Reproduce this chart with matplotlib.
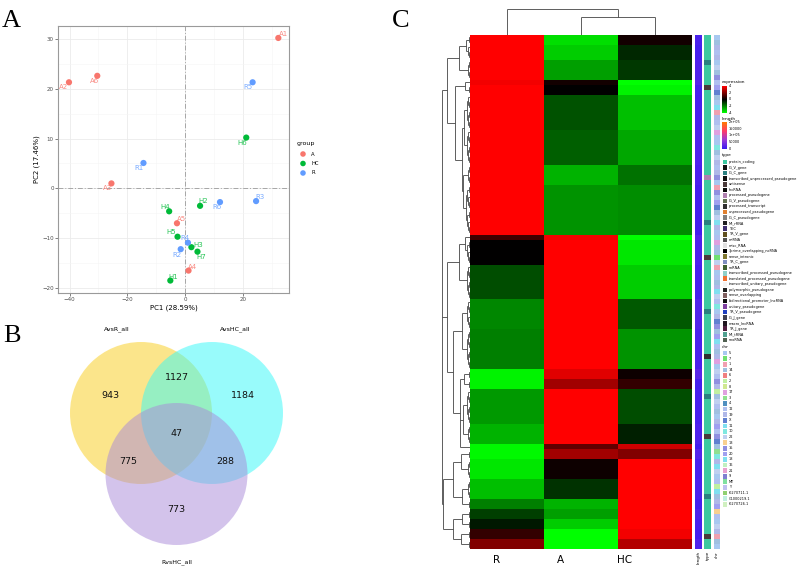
import matplotlib
matplotlib.use('Agg')
import matplotlib.pyplot as plt
from matplotlib.colors import LinearSegmentedColormap, ListedColormap
from matplotlib.patches import Circle, Rectangle
import numpy as np

W, H = 799, 573

# ---------------- panel A : PCA ----------------
samples = ['A1', 'A2', 'A3', 'A4', 'A5', 'A6',
           'H1', 'H2', 'H3', 'H4', 'H5', 'H6', 'H7',
           'R1', 'R2', 'R3', 'R4', 'R5', 'R6']
groups = ['A'] * 6 + ['HC'] * 7 + ['R'] * 6
pc1 = [32.3, -40.2, -25.5, 1.2, -2.8, -30.4,
       -5.1, 5.2, 2.2, -5.5, -2.6, 21.2, 4.3,
       -14.4, -1.5, 24.6, 1.0, 23.4, 12.1]
pc2 = [30.2, 21.3, 1.0, -16.5, -7.0, 22.6,
       -18.5, -3.5, -11.8, -4.6, -9.7, 10.2, -12.7,
       5.1, -12.2, -2.55, -10.9, 21.3, -2.75]
# label nudges in pixels (ggrepel-ish)
label_offsets = [(5, 4), (-5, -5), (-4, -5), (4, 4), (5, 4), (-3, -5),
                 (3, 4), (3, 5), (7, 2), (-4, 4), (-6, 5), (-4, -5), (4, -5),
                 (-4, -5), (-4, -6), (4, 4), (-3, 5), (-5, -5), (-3, -5)]
group_names = ['A', 'HC', 'R']
group_colors = {'A': '#F8766D', 'HC': '#00BA38', 'R': '#619CFF'}

# ---------------- panel B : venn ----------------
set_names = ['AvsR_all', 'AvsHC_all', 'RvsHC_all']
venn_counts = {'100': 943, '010': 1184, '001': 773,
               '110': 1127, '101': 775, '011': 288, '111': 47}

# ---------------- panel C : heatmap ----------------
col_names = ['R', 'A', 'HC']
block_rows = [2, 3, 4, 1, 2, 7, 7, 4, 10, 1, 5, 7, 6, 8, 2, 2, 7, 4, 1, 2, 4, 4, 2, 2, 2, 2, 2]
block_R = [4, 4, 4, 3.8, 4, 4, 4, 4, 4, 1.0, 0, -1.2, -2.1, -2.0, -3.8, -3.8, -2.4, -2.8,
           -3.9, -3.9, -3.6, -3.0, -2.0, -1.0, -0.4, 0.8, 2.0]
block_A = [-3.5, -3.2, -2.5, 0.3, 0, -1.3, -1.5, -2.8, -2.3, 3.8, 4, 4, 4, 4, 3.5, 2.5, 4, 4,
           1.5, 2.5, 0.2, -0.8, -2.8, -2.5, -3.2, -4, -4]
block_HC = [0.3, -0.6, -0.9, -4, -3.8, -3.0, -2.6, -1.8, -2.2, -4, -3.6, -3.2, -1.4, -2.3, 0.2,
            0.8, -1.2, -0.5, 3.2, 2.0, 4, 4, 4, 4, 4, 3.8, 2.8]
block_length = [12000, 8000, 15000, 20000, 10000, 9000, 14000, 11000, 7000, 18000, 13000, 9000,
                16000, 12000, 22000, 8000, 10000, 14000, 6000, 19000, 11000, 13000, 9000, 15000,
                12000, 10000, 17000]

# row tree over blocks: (height, children)
row_tree = (28, [
    (23, [(11, [(4, [0, 1]), 2]),
          (15, [(5, [3, 4]), (8, [(6, [5, 6]), (7, [7, 8])])])]),
    (23, [(11, [(5, [9, 10]), 11]),
          (17, [(8, [12, 13]), (10, [(6, [14, 15]), (7, [16, 17]), 18])])]),
    (27, [(17, [(9, [19, 20]), (8, [21, 22])]),
          (17, [(8, [23, 24]), (9, [25, 26])])]),
])
col_tree = (26, [0, (18, [1, 2])])

type_names = ['protein_coding', 'IG_V_gene', 'IG_C_gene', 'transcribed_unprocessed_pseudogene',
              'antisense', 'lncRNA', 'processed_pseudogene', 'IG_V_pseudogene',
              'processed_transcript', 'unprocessed_pseudogene', 'IG_C_pseudogene', 'Mt_rRNA',
              'TEC', 'TR_V_gene', 'miRNA', 'misc_RNA', '3prime_overlapping_ncRNA',
              'sense_intronic', 'TR_C_gene', 'snRNA', 'transcribed_processed_pseudogene',
              'translated_processed_pseudogene', 'transcribed_unitary_pseudogene',
              'polymorphic_pseudogene', 'sense_overlapping', 'bidirectional_promoter_lncRNA',
              'unitary_pseudogene', 'TR_V_pseudogene', 'IG_J_gene', 'macro_lncRNA', 'TR_J_gene',
              'Mt_tRNA', 'snoRNA']
type_colors = ['#3CC8A0', '#111111', '#2A8080', '#101010', '#4A3A3A', '#0A0A0A', '#B080B0',
               '#607050', '#303030', '#E08030', '#808080', '#202020', '#403070', '#605020',
               '#505050', '#E0E0E0', '#000000', '#807830', '#8090C0', '#406030', '#90D0C8',
               '#F07030', '#F4F4F4', '#202020', '#806060', '#101010', '#8040A0', '#2040C0',
               '#404050', '#201820', '#502040', '#50A090', '#506050']
chr_names = ['5', '7', '1', '14', '6', '2', '8', '17', '3', '4', '12', '19', 'X', '11', '10',
             '22', '13', '15', '20', '18', '16', '21', '9', 'MT', 'Y', 'KI270711.1',
             'GL000219.1', 'KI270726.1']
chr_colors = ['#A8C8F0', '#70E070', '#F0A0B0', '#A0C0E0', '#F08080', '#C0F0A0', '#D0E890',
              '#E0A0E0', '#90E090', '#5090C0', '#B0C0F0', '#B0B8E8', '#6080D0', '#80E0F0',
              '#80E8E0', '#C0D0F0', '#F8D090', '#9090E0', '#A0A0F0', '#80E0F0', '#C0F0C0',
              '#E8A0D0', '#8080D0', '#80E0A0', '#C0C0F0', '#90D070', '#C0F0E0', '#D0F0C0']
type_rows = ("0000020000" "4000000000" "0000000060" "0000000200" "0000400000"
             "0000020000" "0000800000" "0020000000" "4000000000" "0020000000" "400")
chr_rows = ("5 14 19 12 19 5 22 14 15 12 20 X 14 5 11 1 19 12 22 17 12 5 10 14 22 19 12 19 15 5 "
            "1 15 12 20 X 14 22 11 19 5 12 17 19 14 7 22 1 5 12 14 19 18 22 12 10 5 19 X 15 14 "
            "20 11 12 14 19 17 5 22 12 15 19 2 14 22 12 14 5 19 20 12 15 X 14 3 10 19 18 22 5 12 "
            "2 11 14 19 20 13 12 5 22 19 1 14 5").split()


def px_rect(x0, y0, x1, y1):
    return [x0 / W, 1 - y1 / H, (x1 - x0) / W, (y1 - y0) / H]


fig = plt.figure(figsize=(W / 100, H / 100), dpi=100)

# ---- A ----
axA = fig.add_axes(px_rect(58, 26, 289, 293))
axA.set_xlim(-44, 36)
axA.set_ylim(-21, 32.6)
axA.set_xticks([-40, -20, 0, 20])
axA.set_xticks([-30, -10, 10, 30], minor=True)
axA.set_yticks([-20, -10, 0, 10, 20, 30])
axA.set_yticks([-15, -5, 5, 15, 25], minor=True)
axA.grid(which='major', color='#EBEBEB', lw=0.6)
axA.grid(which='minor', color='#F5F5F5', lw=0.4)
axA.set_axisbelow(True)
axA.axvline(0, color='#A6A6A6', lw=0.7, ls=(0, (5, 2, 1, 2)), zorder=1)
axA.axhline(0, color='#A6A6A6', lw=0.7, ls=(0, (5, 2, 1, 2)), zorder=1)
for i, s in enumerate(samples):
    c = group_colors[groups[i]]
    axA.scatter(pc1[i], pc2[i], s=20, color=c, edgecolors='none', zorder=3)
    axA.annotate(s, (pc1[i], pc2[i]), xytext=label_offsets[i], textcoords='offset pixels',
                 ha='center', va='center', fontsize=5, color=c, alpha=0.85, zorder=4)
axA.tick_params(which='major', labelsize=4, colors='#4D4D4D', length=2, width=0.5, pad=1)
axA.tick_params(which='minor', length=0)
for sp in axA.spines.values():
    sp.set_color('#9A9A9A')
    sp.set_linewidth(0.8)
axA.set_xlabel('PC1 (28.59%)', fontsize=5, labelpad=1.5)
axA.set_ylabel('PC2 (17.46%)', fontsize=5, labelpad=1.5)

axG = fig.add_axes(px_rect(292, 135, 335, 180))
axG.set_xlim(292, 335)
axG.set_ylim(180, 135)
axG.axis('off')
axG.text(297, 143, 'group', fontsize=4.5, va='center', ha='left')
for k, g in enumerate(group_names):
    yy = 154 + k * 9.5
    axG.scatter(303, yy, s=16, color=group_colors[g], edgecolors='none')
    axG.text(311, yy, g, fontsize=3.8, va='center', ha='left')

# ---- B ----
axB = fig.add_axes(px_rect(0, 310, 340, 573))
axB.set_xlim(0, 340)
axB.set_ylim(573, 310)
axB.axis('off')
centers = [(141, 413), (212, 413), (176.5, 474)]
radius = 71
venn_colors = ['#F9CD19', '#33F9F9', '#A989D9']
for (cx, cy), col in zip(centers, venn_colors):
    axB.add_patch(Circle((cx, cy), radius, facecolor=col, edgecolor='none', alpha=0.5))
(ax1, ay1), (ax2, ay2), (ax3, ay3) = centers
mx = (ax1 + ax2) / 2
region_pos = {'100': (ax1 - 31, ay1 - 18), '010': (ax2 + 31, ay2 - 18),
              '001': (ax3, ay3 + 36), '110': (mx, ay1 - 36),
              '101': (ax1 - 13, ay3 - 12), '011': (ax2 + 13, ay3 - 12),
              '111': (mx, ay1 + 20)}
for key, val in venn_counts.items():
    x, y = region_pos[key]
    axB.text(x, y, str(val), fontsize=6.8, ha='center', va='center', color='#111111')
axB.text(117, 329, set_names[0], fontsize=4.5, ha='center', va='center')
axB.text(235, 329, set_names[1], fontsize=4.5, ha='center', va='center')
axB.text(176.5, 562, set_names[2], fontsize=4.5, ha='center', va='center')

# ---- C ----
expr = np.column_stack([np.repeat(block_R, block_rows),
                        np.repeat(block_A, block_rows),
                        np.repeat(block_HC, block_rows)])
n_rows = expr.shape[0]
starts = np.concatenate([[0], np.cumsum(block_rows)[:-1]])
expr_cmap = LinearSegmentedColormap.from_list('gbr', ['#00FF00', '#000000', '#FF0000'])

axH = fig.add_axes(px_rect(470, 35, 692, 549))
axH.imshow(expr, aspect='auto', cmap=expr_cmap, vmin=-4, vmax=4, interpolation='nearest',
           extent=(0, 3, n_rows, 0))
axH.set_xticks([])
axH.set_yticks([])
for sp in axH.spines.values():
    sp.set_visible(False)

dcol = '#444444'
dlw = 0.6


def seg(ax, pos, h0, h1, orient):
    if orient == 'row':
        ax.plot([h0, h1], [pos, pos], color=dcol, lw=dlw, solid_capstyle='butt')
    else:
        ax.plot([pos, pos], [h0, h1], color=dcol, lw=dlw, solid_capstyle='butt')


def bar(ax, p0, p1, h, orient):
    if orient == 'row':
        ax.plot([h, h], [p0, p1], color=dcol, lw=dlw, solid_capstyle='butt')
    else:
        ax.plot([p0, p1], [h, h], color=dcol, lw=dlw, solid_capstyle='butt')


def block_tree(ax, lo, hi, step=0.9):
    if hi - lo == 1:
        return lo + 0.5, 0.0
    mid = (lo + hi) // 2
    a = block_tree(ax, lo, mid, step)
    b = block_tree(ax, mid, hi, step)
    h = max(a[1], b[1]) + step
    for p, kh in (a, b):
        seg(ax, p, kh, h, 'row')
    bar(ax, a[0], b[0], h, 'row')
    return (a[0] + b[0]) / 2, h


def draw_tree(ax, node, leaf_fn, orient):
    if isinstance(node, int):
        return leaf_fn(node)
    h, kids = node
    res = [draw_tree(ax, k, leaf_fn, orient) for k in kids]
    ps = [r[0] for r in res]
    for p, kh in res:
        seg(ax, p, kh, h, orient)
    bar(ax, min(ps), max(ps), h, orient)
    return (min(ps) + max(ps)) / 2, h


axRD = fig.add_axes(px_rect(436, 35, 470, 549))
axRD.set_xlim(34, 0)
axRD.set_ylim(n_rows, 0)
axRD.axis('off')
draw_tree(axRD, row_tree,
          lambda b: block_tree(axRD, starts[b], starts[b] + block_rows[b]), 'row')

axCD = fig.add_axes(px_rect(470, 5, 692, 35))
axCD.set_xlim(0, 3)
axCD.set_ylim(0, 30)
axCD.axis('off')
draw_tree(axCD, col_tree, lambda c: (c + 0.5, 0.0), 'col')

for x, name in zip([497, 560, 625], col_names):
    fig.text(x / W, 1 - 560 / H, name, fontsize=7.5, ha='center', va='center')

# annotation bars
len_cmap = LinearSegmentedColormap.from_list('len', ['#3A1CF0', '#9A3AD8', '#FF3A6A', '#FF7A00'])
length_vals = np.repeat(block_length, block_rows)[:, None]
type_vals = np.array([int(c) for c in type_rows])[:, None]
chr_vals = np.array([chr_names.index(c) for c in chr_rows])[:, None]
bars = [(695, 702, length_vals, len_cmap, 0, 200000, 'length'),
        (704, 711, type_vals, ListedColormap(type_colors), -0.5, len(type_colors) - 0.5, 'type'),
        (714, 720, chr_vals, ListedColormap(chr_colors), -0.5, len(chr_colors) - 0.5, 'chr')]
for x0, x1, vals, cm, vmin, vmax, lab in bars:
    axb = fig.add_axes(px_rect(x0, 35, x1, 549))
    axb.imshow(vals, aspect='auto', cmap=cm, vmin=vmin, vmax=vmax, interpolation='nearest',
               extent=(0, 1, vals.shape[0], 0))
    axb.axis('off')
    fig.text((x0 + x1) / 2 / W, 1 - 551 / H, lab, fontsize=3, rotation=90, ha='center', va='top')

# legend column
axL = fig.add_axes(px_rect(718, 75, 799, 515))
axL.set_xlim(718, 799)
axL.set_ylim(515, 75)
axL.axis('off')
fs = 2.5
axL.text(722, 82, 'expression', fontsize=3.2, va='center')
grad = np.linspace(4, -4, 100)[:, None]
axL.imshow(grad, aspect='auto', cmap=expr_cmap, vmin=-4, vmax=4, extent=(722, 727, 113, 86))
for v in [4, 2, 0, -2, -4]:
    yy = 86 + (4 - v) / 8 * 27
    axL.text(729, yy, str(v), fontsize=fs, va='center')
axL.text(722, 119, 'length', fontsize=3.2, va='center')
grad2 = np.linspace(200000, 0, 100)[:, None]
axL.imshow(grad2, aspect='auto', cmap=len_cmap, vmin=0, vmax=200000, extent=(722, 727, 149, 122))
for v, t in zip([200000, 150000, 100000, 50000, 0], ['2e+05', '150000', '1e+05', '50000', '0']):
    yy = 122 + (200000 - v) / 200000 * 27
    axL.text(729, yy, t, fontsize=fs, va='center')
axL.text(722, 155, 'type', fontsize=3.2, va='center')
for k, (nm, col) in enumerate(zip(type_names, type_colors)):
    yy = 162 + k * 5.56
    axL.add_patch(Rectangle((722.5, yy - 2.3), 4.5, 4.6, facecolor=col, edgecolor='none'))
    axL.text(729, yy, nm, fontsize=fs, va='center')
axL.text(722, 347, 'chr', fontsize=3.2, va='center')
for k, (nm, col) in enumerate(zip(chr_names, chr_colors)):
    yy = 353 + k * 5.6
    axL.add_patch(Rectangle((722.5, yy - 2.3), 4.5, 4.6, facecolor=col, edgecolor='none'))
    axL.text(729, yy, nm, fontsize=fs, va='center')

# panel letters
fig.text(2 / W, 1 - 27 / H, 'A', family='Liberation Serif', fontsize=19, va='baseline')
fig.text(3 / W, 1 - 342 / H, 'B', family='Liberation Serif', fontsize=19, va='baseline')
fig.text(392 / W, 1 - 27 / H, 'C', family='Liberation Serif', fontsize=19, va='baseline')

fig.savefig('out.png', dpi=100)
